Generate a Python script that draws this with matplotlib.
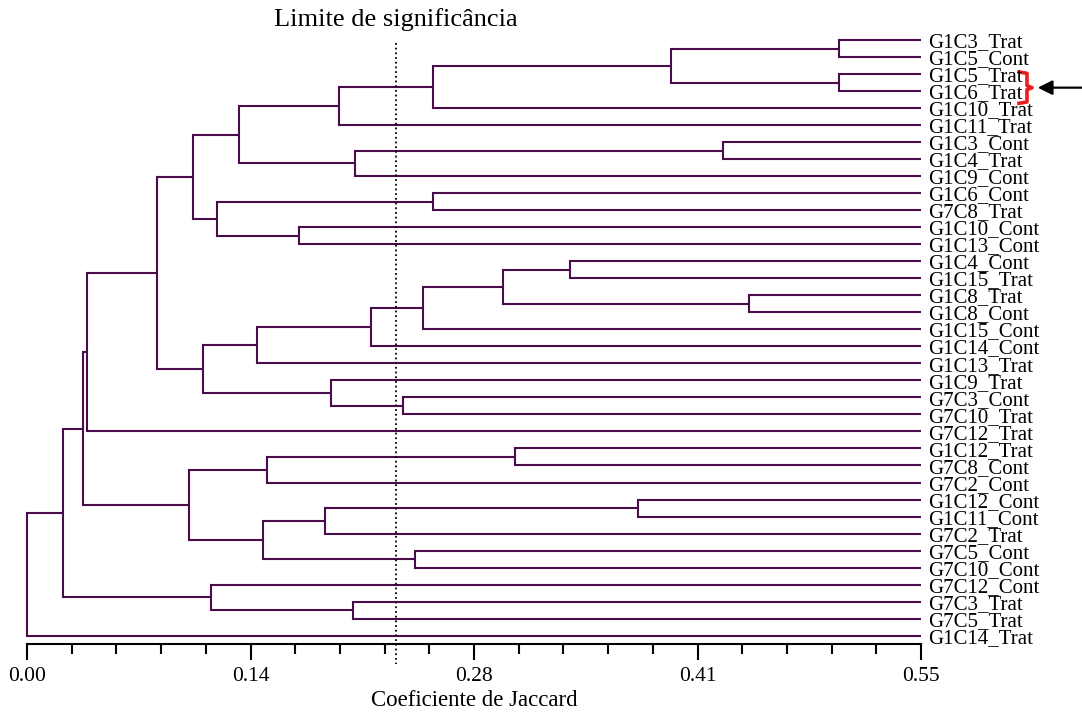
import matplotlib
matplotlib.use('Agg')
import matplotlib.pyplot as plt
from matplotlib.ticker import MultipleLocator, FixedLocator, FixedFormatter
from matplotlib.transforms import blended_transform_factory

# ---------------- data ----------------
leaf_labels = [
    "G1C3_Trat", "G1C5_Cont", "G1C5_Trat", "G1C6_Trat", "G1C10_Trat",
    "G1C11_Trat", "G1C3_Cont", "G1C4_Trat", "G1C9_Cont", "G1C6_Cont",
    "G7C8_Trat", "G1C10_Cont", "G1C13_Cont", "G1C4_Cont", "G1C15_Trat",
    "G1C8_Trat", "G1C8_Cont", "G1C15_Cont", "G1C14_Cont", "G1C13_Trat",
    "G1C9_Trat", "G7C3_Cont", "G7C10_Trat", "G7C12_Trat", "G1C12_Trat",
    "G7C8_Cont", "G7C2_Cont", "G1C12_Cont", "G1C11_Cont", "G7C2_Trat",
    "G7C5_Cont", "G7C10_Cont", "G7C12_Cont", "G7C3_Trat", "G7C5_Trat",
    "G1C14_Trat",
]
# merge list: ids < 36 are leaves, id 36+k is merge k
merge_left = [0, 2, 36, 38, 39, 6, 41, 40, 9, 11, 44, 43, 13, 15, 48, 50, 51, 52,
              21, 20, 53, 47, 57, 24, 59, 27, 61, 30, 62, 60, 58, 33, 32, 66, 69]
merge_right = [1, 3, 37, 4, 5, 7, 8, 42, 10, 12, 45, 46, 14, 16, 49, 17, 18, 19,
               22, 54, 55, 56, 23, 25, 26, 28, 29, 31, 63, 64, 65, 34, 67, 68, 35]
merge_height = [0.4997, 0.4997, 0.3962, 0.2498, 0.1921, 0.4284, 0.2020, 0.1304,
                0.2498, 0.1675, 0.1171, 0.1023, 0.3339, 0.4444, 0.2928, 0.2438,
                0.2116, 0.1417, 0.2315, 0.1872, 0.1083, 0.0802, 0.0371, 0.3004,
                0.1478, 0.3757, 0.1835, 0.2389, 0.1454, 0.0998, 0.0346, 0.2007,
                0.1134, 0.0223, 0.0]
significance = 0.2268
x_max = 0.55
major_ticks = [0.0, 0.1375, 0.275, 0.4125, 0.55]
major_labels = ["0.00", "0.14", "0.28", "0.41", "0.55"]
minor_step = 0.0275
title_text = "Limite de significância"
xlabel_text = "Coeficiente de Jaccard"
highlight = (2, 3)  # G1C5_Trat, G1C6_Trat

# ---------------- figure ----------------
W, H = 1082, 717
fig = plt.figure(figsize=(W / 100, H / 100), dpi=100)
plt.rcParams['font.family'] = ['Liberation Serif', 'DejaVu Serif']

ax_left_px, ax_right_px = 27, 921
ax_top_px, ax_bot_px = 30, 644
ax = fig.add_axes([ax_left_px / W, (H - ax_bot_px) / H,
                   (ax_right_px - ax_left_px) / W, (ax_bot_px - ax_top_px) / H])

n = len(leaf_labels)
leaf_px0, leaf_dy = 40.0, 17.02
ax.set_xlim(0, x_max)
ax.set_ylim(n - 1 + (ax_bot_px - (leaf_px0 + (n - 1) * leaf_dy)) / leaf_dy,
            -(leaf_px0 - ax_top_px) / leaf_dy)

line_color = '#4a0c4a'
lw = 1.5
ypos = {i: float(i) for i in range(n)}
xpos = {i: x_max for i in range(n)}
for k, (a, b, h) in enumerate(zip(merge_left, merge_right, merge_height)):
    ya, yb = ypos[a], ypos[b]
    ax.plot([h, xpos[a]], [ya, ya], color=line_color, lw=lw, solid_capstyle='butt', clip_on=False)
    ax.plot([h, xpos[b]], [yb, yb], color=line_color, lw=lw, solid_capstyle='butt', clip_on=False)
    ax.plot([h, h], [ya, yb], color=line_color, lw=lw, solid_capstyle='projecting', clip_on=False)
    ypos[n + k] = (ya + yb) / 2
    xpos[n + k] = h

# leaf labels
for i, lab in enumerate(leaf_labels):
    ax.annotate(lab, xy=(x_max, i), xytext=(5, -5.2), textcoords='offset points',
                ha='left', va='baseline', fontsize=15, color='black',
                annotation_clip=False)

# significance line
ax.plot([significance, significance], [0.15, n - 1 + 1.65], color='black', lw=1.3,
        linestyle=(0, (1, 1.6)), clip_on=False)
trans = blended_transform_factory(ax.transData, ax.transAxes)
ax.text(significance, 1 + (ax_top_px - 20) / (ax_bot_px - ax_top_px), title_text,
        transform=trans, ha='center', va='center', fontsize=19)

# axes styling
for s in ['left', 'right', 'top']:
    ax.spines[s].set_visible(False)
ax.spines['bottom'].set_linewidth(1.5)
ax.set_yticks([])
ax.xaxis.set_major_locator(FixedLocator(major_ticks))
ax.xaxis.set_major_formatter(FixedFormatter(major_labels))
ax.xaxis.set_minor_locator(MultipleLocator(minor_step))
ax.tick_params(axis='x', which='major', direction='out', length=11.5, width=1.5,
               labelsize=15.5, pad=5)
ax.tick_params(axis='x', which='minor', direction='out', length=7.5, width=1.5)
ax.set_xlabel(xlabel_text, fontsize=16.5, labelpad=3)

# highlight brace + arrow (annotation beside labels)
y_top = highlight[0] - 0.12
y_bot = highlight[1] + 0.72
y_mid = (y_top + y_bot) / 2
bx0 = x_max + 98 / 1625.5
bx1 = x_max + 106 / 1625.5
btip = x_max + 111 / 1625.5
ax.plot([bx0, bx1, bx1, btip, bx1, bx1, bx0],
        [y_top, y_top + 0.08, y_mid - 0.12, y_mid, y_mid + 0.12, y_bot - 0.08, y_bot],
        color='#ee1c1c', lw=2.6, solid_joinstyle='round', clip_on=False)
ax.annotate('', xy=(x_max + 114 / 1625.5, y_mid), xytext=(x_max + 170 / 1625.5, y_mid),
            arrowprops=dict(arrowstyle='-|>', color='black', lw=1.6, mutation_scale=22),
            annotation_clip=False)

fig.savefig('out.png', dpi=100)
